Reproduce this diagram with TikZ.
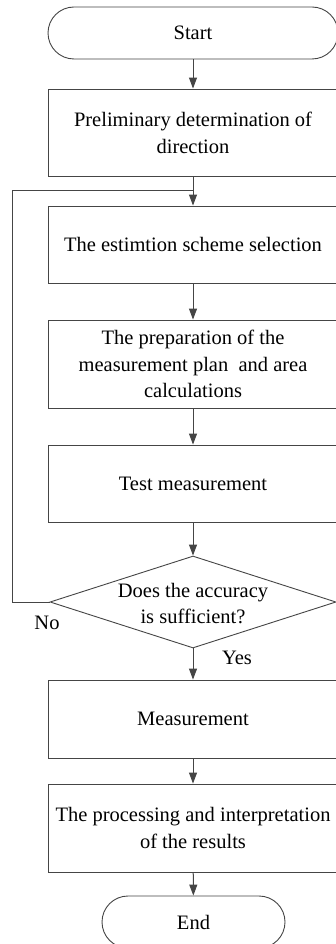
\documentclass[tikz,border=0pt]{standalone}
\usepackage{fontspec}
\setmainfont{Liberation Serif}
\usetikzlibrary{arrows.meta,shapes.geometric}
\definecolor{ln}{HTML}{454545}
\begin{document}
\begin{tikzpicture}[x=1pt,y=-1pt,
  every node/.style={font=\fontsize{20.5}{26.8}\selectfont, text=black},
  box/.style={draw=ln, line width=0.9pt, minimum width=290pt, inner sep=0pt, align=center},
  term/.style={box, rounded corners=26pt},
  decision/.style={diamond, draw=ln, line width=0.9pt, minimum width=286pt, minimum height=92pt, inner sep=0pt},
  arr/.style={draw=ln, line width=1pt, -{Triangle[length=11pt,width=8pt]}},
  plain/.style={draw=ln, line width=1pt}]
\useasboundingbox (0,0) rectangle (336,944);
\clip (0,0) rectangle (336,944);
\fill[white] (0,0) rectangle (336,944);

\node[term, minimum height=52pt] (start) at (193,33) {Start};
\node[box, minimum height=87pt] (b1) at (193,132.5) {Preliminary determination of\\direction};
\node[box, minimum height=77pt] (b2) at (193,244.5) {The estimtion scheme selection};
\node[box, minimum height=88pt] (b3) at (193,364) {The preparation of the\\measurement plan~ and area\\calculations};
\node[box, minimum height=77pt] (b4) at (193,483.5) {Test measurement};
\node[decision] (dec) at (193,602) {};
\node[align=center, inner sep=0pt] (dect) at (193,603.5) {Does the accuracy\\is sufficient?};
\node[box, minimum height=78pt] (b5) at (193,719) {Measurement};
\node[box, minimum height=88pt] (b6) at (193,828) {The processing and interpretation\\of the results};
\node[term, minimum width=183pt, minimum height=52pt] (end) at (193.5,922) {End};

\node (no) at (47,623) {No};
\node (yes) at (237,658) {Yes};

\coordinate (join) at (193,190);
\coordinate (fb) at (12,190);

\draw[arr] (start) -- (b1);
\draw[arr] (b1) -- (b2);
\draw[arr] (b2) -- (b3);
\draw[arr] (b3) -- (b4);
\draw[arr] (b4) -- (dec);
\draw[arr] (dec) -- (b5);
\draw[arr] (b5) -- (b6);
\draw[arr] (b6) -- (end);
\draw[plain] (dec.west) -| (fb) -- (join);
\end{tikzpicture}
\end{document}
